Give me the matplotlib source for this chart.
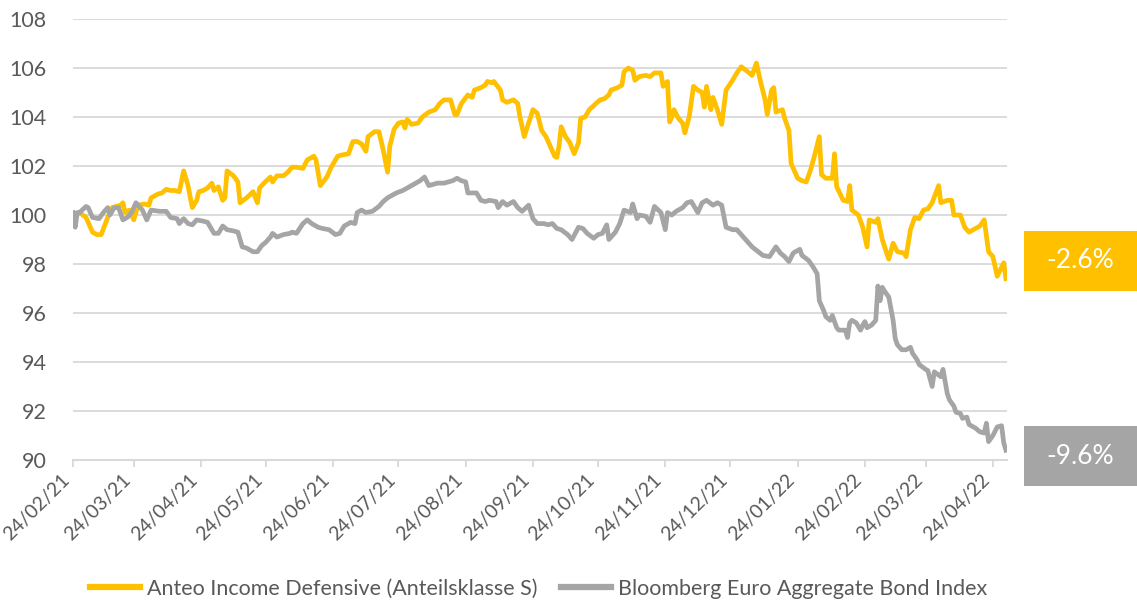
import matplotlib
matplotlib.use("Agg")
import matplotlib.pyplot as plt
import matplotlib.dates as mdates
from matplotlib.patches import Rectangle
import pandas as pd

# ---------------- data ----------------
start_date = "2021-02-24"

fund_days = [0, 3, 6, 9, 11, 13, 16, 18, 22, 23, 24, 26, 28, 30, 33, 35, 36, 39, 41, 43,
             45, 47, 49, 51, 53, 55, 57, 58, 60, 62, 64, 65, 67, 69, 70, 71, 74, 76, 77, 80,
             83, 85, 86, 88, 91, 92, 94, 97, 99, 101, 103, 106, 108, 111, 112, 114, 117, 119, 122, 124,
             127, 129, 131, 133, 135, 136, 139, 141, 143, 145, 146, 148, 150, 152, 153, 154, 156, 159, 161, 164,
             167, 169, 171, 174, 176, 177, 179, 182, 184, 185, 188, 190, 191, 193, 194, 197, 198, 200, 203, 205,
             206, 208, 212, 214, 216, 218, 220, 222, 223, 224, 225, 227, 229, 231, 233, 234, 236, 238, 241, 243,
             245, 247, 248, 251, 253, 254, 256, 258, 259, 261, 264, 266, 268, 271, 272, 274, 275, 276, 277, 279,
             281, 282, 284, 286, 288, 290, 291, 292, 294, 295, 297, 299, 301, 304, 306, 308, 311, 313, 315, 317,
             319, 320, 322, 323, 324, 327, 328, 330, 331, 334, 336, 338, 340, 342, 344, 345, 347, 350, 351, 352,
             355, 357, 358, 359, 362, 364, 366, 367, 370, 371, 373, 375, 376, 378, 380, 383, 384, 386, 388, 390,
             392, 394, 396, 399, 400, 403, 405, 406, 409, 411, 413, 416, 418, 420, 422, 424, 426, 429, 430]
fund_values = [100.0, 100.1, 99.9, 99.3, 99.2, 99.2, 99.9, 100.3, 100.4, 100.5, 100.1, 100.2, 99.8, 100.4, 100.45, 100.4, 100.7, 100.85, 100.9, 101.05,
               101.0, 101.0, 100.95, 101.8, 101.2, 100.3, 100.6, 100.95, 101.0, 101.1, 101.3, 101.0, 101.15, 100.6, 100.7, 101.8, 101.6, 101.35, 100.5, 100.7,
               100.95, 100.5, 101.1, 101.3, 101.55, 101.35, 101.6, 101.6, 101.75, 101.95, 101.95, 101.9, 102.25, 102.4, 102.25, 101.2, 101.55, 101.95, 102.4, 102.45,
               102.5, 103.0, 103.0, 102.9, 102.6, 103.2, 103.4, 103.4, 102.65, 101.75, 102.8, 103.5, 103.75, 103.8, 103.55, 103.9, 103.7, 103.75, 104.0, 104.2,
               104.3, 104.55, 104.7, 104.7, 104.1, 104.1, 104.55, 104.9, 104.8, 105.1, 105.2, 105.3, 105.45, 105.4, 105.45, 105.1, 104.7, 104.6, 104.7, 104.55,
               104.0, 103.2, 104.3, 104.15, 103.45, 103.2, 102.8, 102.4, 102.35, 102.8, 103.6, 103.2, 102.95, 102.5, 102.95, 103.95, 104.0, 104.3, 104.55, 104.7,
               104.75, 104.9, 105.1, 105.2, 105.3, 105.85, 106.0, 105.9, 105.5, 105.65, 105.7, 105.65, 105.8, 105.8, 105.25, 105.45, 103.8, 104.0, 104.3, 103.95,
               103.75, 103.35, 104.0, 105.25, 105.1, 105.0, 104.4, 105.25, 104.3, 104.8, 104.3, 103.7, 105.1, 105.5, 105.8, 106.05, 105.85, 105.7, 106.2, 105.4,
               104.7, 104.1, 105.1, 105.2, 104.2, 104.3, 103.95, 103.45, 102.1, 101.5, 101.4, 101.35, 101.85, 102.5, 103.2, 101.65, 101.5, 101.5, 102.5, 101.15,
               100.6, 100.55, 101.2, 100.2, 100.0, 99.5, 98.7, 99.8, 99.7, 99.85, 99.0, 98.45, 98.2, 98.85, 98.5, 98.45, 98.3, 99.4, 99.9, 99.85,
               100.2, 100.25, 100.5, 101.2, 100.5, 100.6, 100.6, 100.0, 100.0, 99.5, 99.3, 99.45, 99.55, 99.8, 98.5, 98.3, 97.5, 98.05, 97.4]

index_days = [0, 1, 2, 3, 6, 7, 9, 12, 14, 16, 17, 19, 21, 23, 25, 27, 29, 32, 34, 36,
              40, 43, 45, 48, 49, 51, 53, 55, 57, 60, 62, 65, 67, 69, 71, 74, 76, 78, 80, 83,
              85, 87, 89, 91, 92, 94, 97, 100, 101, 103, 106, 108, 110, 113, 115, 118, 121, 123, 125, 128,
              130, 131, 133, 135, 138, 141, 143, 145, 147, 149, 152, 155, 158, 160, 162, 164, 166, 168, 171, 175,
              177, 179, 181, 182, 184, 186, 188, 190, 192, 195, 196, 198, 200, 203, 205, 207, 210, 212, 214, 217,
              219, 221, 223, 225, 228, 230, 233, 235, 237, 240, 242, 244, 246, 247, 250, 252, 254, 257, 258, 260,
              261, 264, 266, 268, 271, 273, 274, 276, 278, 281, 283, 285, 288, 290, 292, 295, 297, 299, 301, 304,
              306, 310, 313, 318, 321, 324, 326, 328, 330, 332, 334, 335, 336, 339, 341, 343, 344, 346, 347, 349,
              350, 352, 353, 356, 357, 358, 359, 361, 363, 364, 365, 366, 368, 370, 371, 372, 373, 374, 376, 378,
              379, 380, 382, 384, 386, 387, 389, 390, 393, 394, 396, 397, 400, 401, 403, 404, 406, 407, 409, 410,
              412, 413, 416, 418, 420, 421, 422, 424, 426, 428, 429, 430]
index_values = [100.1, 99.5, 100.1, 100.1, 100.35, 100.3, 99.9, 99.85, 100.1, 100.3, 100.0, 100.3, 100.3, 99.8, 99.9, 100.1, 100.5, 100.2, 99.8, 100.2,
                100.15, 100.15, 99.9, 99.85, 99.65, 99.85, 99.65, 99.6, 99.8, 99.75, 99.7, 99.25, 99.25, 99.55, 99.4, 99.35, 99.3, 98.7, 98.65, 98.5,
                98.5, 98.75, 98.9, 99.1, 99.25, 99.1, 99.2, 99.25, 99.3, 99.25, 99.65, 99.8, 99.65, 99.5, 99.45, 99.4, 99.2, 99.25, 99.55, 99.7,
                99.65, 100.1, 100.2, 100.1, 100.15, 100.35, 100.55, 100.7, 100.8, 100.9, 101.0, 101.15, 101.3, 101.4, 101.55, 101.2, 101.25, 101.3, 101.3, 101.4,
                101.5, 101.4, 101.35, 100.9, 100.9, 100.9, 100.6, 100.55, 100.6, 100.55, 100.3, 100.55, 100.4, 100.55, 100.3, 100.15, 100.4, 99.85, 99.65, 99.65,
                99.6, 99.65, 99.45, 99.4, 99.2, 99.0, 99.5, 99.45, 99.25, 99.05, 99.2, 99.25, 99.6, 99.0, 99.3, 99.65, 100.2, 100.1, 100.45, 99.85,
                100.0, 99.95, 99.7, 100.35, 100.1, 99.4, 100.1, 100.0, 100.15, 100.3, 100.5, 100.55, 100.1, 100.5, 100.6, 100.4, 100.5, 100.4, 99.5, 99.4,
                99.4, 99.0, 98.7, 98.35, 98.3, 98.7, 98.45, 98.3, 98.1, 98.45, 98.55, 98.6, 98.35, 98.15, 97.9, 97.6, 96.5, 96.1, 95.85, 95.7,
                95.9, 95.4, 95.3, 95.3, 95.0, 95.6, 95.7, 95.6, 95.3, 95.5, 95.65, 95.4, 95.5, 95.7, 97.1, 96.5, 97.05, 96.9, 96.65, 95.7,
                94.95, 94.7, 94.5, 94.5, 94.6, 94.35, 94.1, 93.9, 93.7, 93.65, 93.0, 93.6, 93.4, 93.7, 92.7, 92.45, 92.2, 91.95, 91.9, 91.7,
                91.75, 91.45, 91.3, 91.15, 91.1, 91.5, 90.75, 91.0, 91.35, 91.4, 90.7, 90.4]

series_names = ["Anteo Income Defensive (Anteilsklasse S)", "Bloomberg Euro Aggregate Bond Index"]
perf_labels = ["-2.6%", "-9.6%"]
tick_start = "2021-02-24"
tick_end = "2022-04-24"
y_ticks = [90, 92, 94, 96, 98, 100, 102, 104, 106, 108]

# ---------------- styling ----------------
GOLD = "#FFC000"
GREY = "#A5A5A5"
TEXT = "#595959"
GRID = "#D9D9D9"
FONT = ["Lato", "DejaVu Sans"]

plt.rcParams["font.family"] = FONT

start = pd.Timestamp(start_date)
fund_dates = start + pd.to_timedelta(fund_days, unit="D")
index_dates = start + pd.to_timedelta(index_days, unit="D")
tick_dates = pd.date_range(tick_start, tick_end, freq=pd.DateOffset(months=1))

fig = plt.figure(figsize=(11.37, 6.0), dpi=100)
ax = fig.add_axes([73 / 1137, 1 - 460 / 600, (1007 - 73) / 1137, (460 - 19) / 600])

ax.plot(fund_dates, fund_values, color=GOLD, lw=3.4, solid_joinstyle="round",
        label=series_names[0], zorder=3)
ax.plot(index_dates, index_values, color=GREY, lw=3.4, solid_joinstyle="round",
        label=series_names[1], zorder=3)

ax.set_ylim(90, 108)
ax.set_yticks(y_ticks)
ax.set_xlim(start, start + pd.Timedelta(days=430.5))
ax.set_xticks(tick_dates)
ax.xaxis.set_major_formatter(mdates.DateFormatter("%d/%m/%y"))

for s in ["top", "right", "left"]:
    ax.spines[s].set_visible(False)
ax.spines["bottom"].set_color(GRID)
ax.spines["bottom"].set_linewidth(1.5)

ax.yaxis.grid(True, color=GRID, lw=1.3)
ax.set_axisbelow(True)
ax.tick_params(axis="y", length=0, pad=19, labelsize=15.5, labelcolor=TEXT)
ax.tick_params(axis="x", length=5, width=1.3, color=GRID, direction="out",
               pad=3, labelsize=14, labelcolor=TEXT)
for lab in ax.get_xticklabels():
    lab.set_rotation(45)
    lab.set_ha("right")

leg = fig.legend(loc="lower center", bbox_to_anchor=(0.474, -0.03), ncol=2,
                 frameon=False, fontsize=15.5, handlelength=2.3, columnspacing=1.1,
                 handletextpad=0.35)
for t in leg.get_texts():
    t.set_color(TEXT)
for h in leg.legend_handles:
    h.set_linewidth(4.5)

# performance boxes on the right
box_x0 = 1024 / 1137
box_w = 1 - box_x0
for (y_top, y_bot), colr, txt in zip([(231, 291), (426, 486)], [GOLD, GREY], perf_labels):
    y0 = 1 - y_bot / 600
    h = (y_bot - y_top) / 600
    fig.patches.append(Rectangle((box_x0, y0), box_w, h, transform=fig.transFigure,
                                 facecolor=colr, edgecolor="none"))
    fig.text(box_x0 + box_w / 2, y0 + h / 2, txt, color="white", fontsize=19,
             ha="center", va="center")

fig.savefig("out.png", dpi=100)
